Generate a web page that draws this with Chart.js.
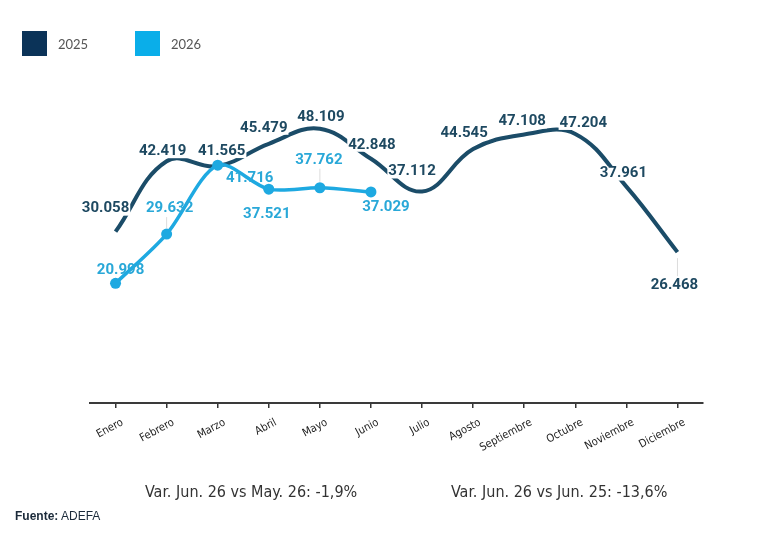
<!DOCTYPE html>
<html lang="es">
<head>
<meta charset="utf-8">
<title>Patentamientos 2025 vs 2026</title>
<script src="https://cdn.jsdelivr.net/npm/chart.js@4.4.1/dist/chart.umd.min.js"></script>
<style>
  html, body { margin: 0; padding: 0; background: #fff; }
  #wrap { position: relative; width: 780px; height: 539px; overflow: hidden; }
  #salesChart { position: absolute; left: 0; top: 0; }
  .legend-item { position: absolute; top: 31px; display: flex; align-items: center; font-family: Lato, "Open Sans", sans-serif; font-size: 13px; color: #555; }
  .legend-item .box { width: 25px; height: 25px; margin-right: 11px; }
  .var-note { position: absolute; top: 482px; font-family: "Liberation Sans Narrow", "DejaVu Sans Condensed", "Liberation Sans", sans-serif; font-size: 16px; color: #333; white-space: nowrap; }
  #source { position: absolute; left: 15px; top: 509px; font-family: "Liberation Sans", Arial, sans-serif; font-size: 12px; color: #1b2a3a; }
</style>
</head>
<body>
<div id="wrap">
  <canvas id="salesChart" width="780" height="539"></canvas>
  <div class="legend-item" style="left:22px"><span class="box" style="background:#0b3358"></span>2025</div>
  <div class="legend-item" style="left:135px"><span class="box" style="background:#0aaee9"></span>2026</div>
  <div class="var-note" style="left:145px">Var. Jun. 26 vs May. 26: -1,9%</div>
  <div class="var-note" style="left:451px">Var. Jun. 26 vs Jun. 25: -13,6%</div>
  <div id="source"><b>Fuente:</b> ADEFA</div>
</div>
<script>
const months = ["Enero", "Febrero", "Marzo", "Abril", "Mayo", "Junio", "Julio", "Agosto", "Septiembre", "Octubre", "Noviembre", "Diciembre"];
const sales2025 = [30058, 42419, 41565, 45479, 48109, 42848, 37112, 44545, 47108, 47204, 37961, 26468];
const sales2026 = [20998, 29632, 41716, 37521, 37762, 37029];

const COLOR_2025 = "#1b4c68";
const COLOR_2026 = "#1ea9e1";

// where each value label sits relative to its point (dx, dy), plus leader line flag
const labelPlace2025 = [[-10, -23], [-4, -10], [4, -15], [-5, -16], [1, -12], [1, -14], [-10, -20], [-9, -16], [-2, -13], [8, -11], [-3, -13], [-3, 33, true]];
const labelPlace2026 = [[5, -13], [3, -26, true], [32, 13], [-2, 25], [-1, -28, true], [15, 15]];

const fmt = (v) => v.toLocaleString("de-DE");

const valueLabels = {
  id: "valueLabels",
  afterDatasetsDraw(chart, args, opts) {
    const ctx = chart.ctx;
    ctx.save();
    ctx.font = "bold 15px Roboto, 'Liberation Sans', sans-serif";
    ctx.textAlign = "center";
    ctx.textBaseline = "middle";
    chart.data.datasets.forEach((ds, di) => {
      const meta = chart.getDatasetMeta(di);
      const place = opts.places[di];
      meta.data.forEach((pt, i) => {
        const [dx, dy, leader] = place[i];
        const x = pt.x + dx, y = pt.y + dy;
        const txt = fmt(ds.data[i]);
        if (leader) {
          ctx.strokeStyle = "#dcdcdc";
          ctx.lineWidth = 1;
          ctx.beginPath();
          ctx.moveTo(pt.x, pt.y + Math.sign(dy) * 6);
          ctx.lineTo(pt.x, y - Math.sign(dy) * 9);
          ctx.stroke();
        }
        if (ds.labelBg) {
          const w = ctx.measureText(txt).width;
          ctx.fillStyle = "#fff";
          ctx.fillRect(x - w / 2 - 1, y - 7, w + 2, 14);
        }
        ctx.fillStyle = ds.labelColor;
        ctx.fillText(txt, x, y);
      });
    });
    ctx.restore();
  }
};

function renderChart() {
  const ctx = document.getElementById("salesChart");
  return new Chart(ctx, {
    type: "line",
    data: {
      labels: months,
      datasets: [
        {
          label: "2025",
          data: sales2025,
          borderColor: COLOR_2025,
          borderWidth: 4,
          pointRadius: 0,
          tension: 0.4,
          order: 2,
          labelColor: "#1e4961",
          labelBg: true,
        },
        {
          label: "2026",
          data: sales2026,
          borderColor: COLOR_2026,
          backgroundColor: COLOR_2026,
          borderWidth: 3.5,
          pointRadius: 5.5,
          pointBorderWidth: 0,
          tension: 0.3,
          order: 1,
          labelColor: "#29a8d8",
          labelBg: false,
        },
      ],
    },
    options: {
      responsive: false,
      animation: false,
      layout: { padding: { left: 90, right: 77, top: 61, bottom: 86 } },
      scales: {
        x: {
          offset: true,
          afterFit: (scale) => { scale.height = 50; },
          grid: { drawOnChartArea: false, offset: false, tickLength: 5, color: "#333", lineWidth: 1.5 },
          border: { color: "#3a3a3a", width: 2 },
          ticks: {
            color: "#222",
            minRotation: 28,
            maxRotation: 28,
            padding: 8,
            labelOffset: 7,
            font: { family: "'Liberation Sans Narrow', 'DejaVu Sans Condensed', sans-serif", size: 11 },
          },
        },
        y: { display: false, min: 0, max: 60000 },
      },
      plugins: {
        legend: { display: false },
        tooltip: { enabled: false },
        valueLabels: { places: [labelPlace2025, labelPlace2026] },
      },
    },
    plugins: [valueLabels],
  });
}

window.addEventListener("DOMContentLoaded", () => {
  renderChart();
});
</script>
</body>
</html>
